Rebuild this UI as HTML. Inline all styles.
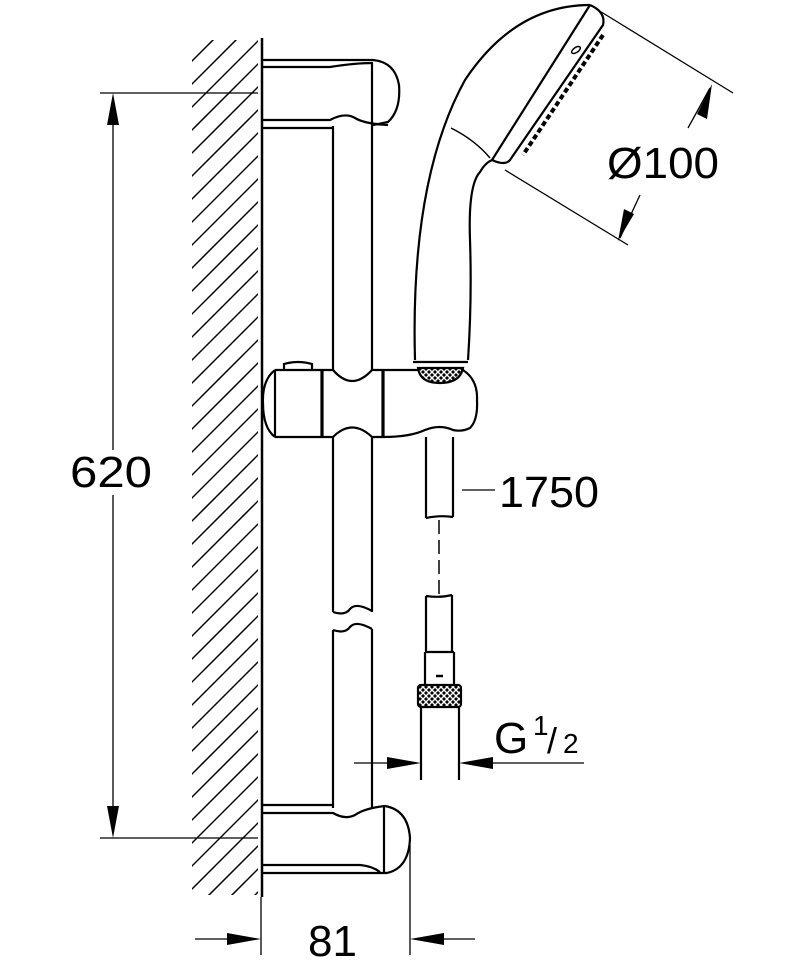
<!DOCTYPE html>
<html><head><meta charset="utf-8"><style>html,body{margin:0;padding:0;background:#fff}svg{display:block}</style></head>
<body>
<svg width="800" height="960" viewBox="0 0 800 960" xmlns="http://www.w3.org/2000/svg">
<defs>
<clipPath id="hc"><rect x="192" y="40" width="66" height="855"/></clipPath>
<pattern id="knurl" width="6" height="6" patternUnits="userSpaceOnUse"><rect width="6" height="6" fill="#000"/><path d="M0 0L6 6M6 0L0 6" stroke="#fff" stroke-width="1.4"/></pattern>
</defs>
<g fill="none" stroke="#000" stroke-width="2.2" stroke-linecap="butt">
<!-- wall -->
<path d="M262 38 V897" stroke-width="2.5"/>
<!-- top ref & 620 dim -->
<path d="M100 93 H258 M100 838 H258" stroke-width="1.3"/>
<path d="M113 118 V450 M113 495 V813" stroke-width="1.3"/>
<!-- top bracket -->
<path d="M262 60 H373 M262 67 H330 Q355 63 373 63"/>
<path d="M373 60 Q395 62 399 85 Q401 110 388 122 L373 125"/>
<path d="M372 63 V125"/>
<path d="M262 120 H330 Q345 112 355 118 Q365 124 388 125"/>
<path d="M262 128 H332"/>
<!-- rail -->
<path d="M333 126 V370 M372 124 V370"/>
<path d="M333 437 V612 M372 437 V612"/>
<path d="M333 612 Q345 616 350 609 Q356 602 372 611"/>
<path d="M333 630 Q345 634 350 627 Q356 620 372 629"/>
<path d="M333 630 V808 M372 629 V808"/>
<!-- bottom bracket -->
<path d="M262 805 H332 M262 813 H333 Q345 820 355 815 Q365 808 385 806"/>
<path d="M385 806 Q408 810 410 838 Q409 868 387 873"/>
<path d="M384 807 V872"/>
<path d="M262 865 H360 Q372 866 380 872 M262 873 H387"/>
<!-- slider -->
<path d="M284 370 V364 Q298 360 312 364 V370"/>
<path d="M275 370 Q262 380 263 403 Q263 428 275 437"/>
<path d="M275 370 H333 Q352 392 372 370 H418 M463 370 Q478 380 477 400 Q478 420 470 428 Q462 432 453 430 Q440 424 425 430 Q410 437 383 437 H372 Q352 418 333 437 H275"/>
<path d="M275 370 V437"/>
<path d="M322 370 V437 M383 370 V437" stroke-width="3.2"/>
<!-- knurl at handle -->
<path d="M418 368 H463 Q460 383 440 383 Q420 383 418 368 Z" fill="url(#knurl)"/>
<!-- handle -->
<path d="M415 360 Q410 180 465 80 Q515 5 590 5"/>
<path d="M468 360 Q472 300 470 240 Q468 185 480 172 Q485 163 492 160"/>
<path d="M413 362 H468"/>
<path d="M590 5 L492 160"/>
<path d="M590 5 Q606 12 603 25 L510 160 Q505 166 492 160"/>
<path d="M451 128 Q475 140 490 158" stroke-width="1.5"/>
<ellipse cx="576" cy="50" rx="2.5" ry="5" transform="rotate(55 576 50)" stroke-width="1.5"/>
<path d="M603 35 L523 155" stroke-width="4" stroke-dasharray="5 3"/>
<!-- Ø100 dim -->
<path d="M598 10 L733 93 M505 170 L628 245" stroke-width="1.3"/>
<path d="M688 128 L710 88 M640 195 L620 238" stroke-width="1.3"/>
<path d="M712 84 L697 114 L707 119 Z M618 241 L624 209 L634 214 Z" fill="#000" stroke="none"/>
<!-- hose upper -->
<path d="M426 437 V518 M453 437 V517 M426 518 Q440 515 453 517"/>
<path d="M462 490 H495" stroke-width="1.3"/>
<path d="M439 520 V595" stroke-width="1.5" stroke-dasharray="14 6"/>
<!-- hose lower -->
<path d="M426 596 Q440 598 452 595 M426 596 V652 M452 595 V652"/>
<path d="M425 652 H454 M425 652 V684 M454 652 V684"/>
<path d="M436 676 H443" stroke-width="2.5"/>
<rect x="418" y="685" width="43" height="22" rx="3" fill="url(#knurl)"/>
<path d="M421 707 V780 M459 707 V780"/>
<!-- G1/2 dim -->
<path d="M354 763 H400 M480 763 H584" stroke-width="1.3"/>
<path d="M421 763 L387 757 V769 Z M459 763 L493 757 V769 Z" fill="#000" stroke="none"/>
<!-- 620 arrows -->
<path d="M113 93 L107 125 H119 Z M113 838 L107 806 H119 Z" fill="#000" stroke="none"/>
<!-- 81 dim -->
<path d="M261 897 V955 M410 845 V955" stroke-width="1.3"/>
<path d="M195 939 H235 M440 939 H475" stroke-width="1.3"/>
<path d="M261 939 L227 933 V945 Z M410 939 L444 933 V945 Z" fill="#000" stroke="none"/>
</g>
<g stroke="#000" stroke-width="1.5" clip-path="url(#hc)">
<path d="M150 80L260 -30M150 103L260 -7M150 126L260 16M150 149L260 39M150 172L260 62M150 195L260 85M150 218L260 108M150 241L260 131M150 264L260 154M150 287L260 177M150 310L260 200M150 333L260 223M150 356L260 246M150 379L260 269M150 402L260 292M150 425L260 315M150 448L260 338M150 471L260 361M150 494L260 384M150 517L260 407M150 540L260 430M150 563L260 453M150 586L260 476M150 609L260 499M150 632L260 522M150 655L260 545M150 678L260 568M150 701L260 591M150 724L260 614M150 747L260 637M150 770L260 660M150 793L260 683M150 816L260 706M150 839L260 729M150 862L260 752M150 885L260 775M150 908L260 798M150 931L260 821M150 954L260 844M150 977L260 867M150 1000L260 890"/>
</g>
<g font-family="Liberation Sans, sans-serif" font-size="44" fill="#000">
<text x="70" y="487" textLength="82" lengthAdjust="spacingAndGlyphs">620</text>
<text x="607" y="178" textLength="112" lengthAdjust="spacingAndGlyphs">Ø100</text>
<text x="499" y="507" textLength="100" lengthAdjust="spacingAndGlyphs">1750</text>
<text x="494" y="753">G</text>
<text x="533" y="735" font-size="28">1</text>
<text x="547" y="753" font-size="36">/</text>
<text x="563" y="753" font-size="28">2</text>
<text x="308" y="956">81</text>
</g>
</svg>
</body></html>
